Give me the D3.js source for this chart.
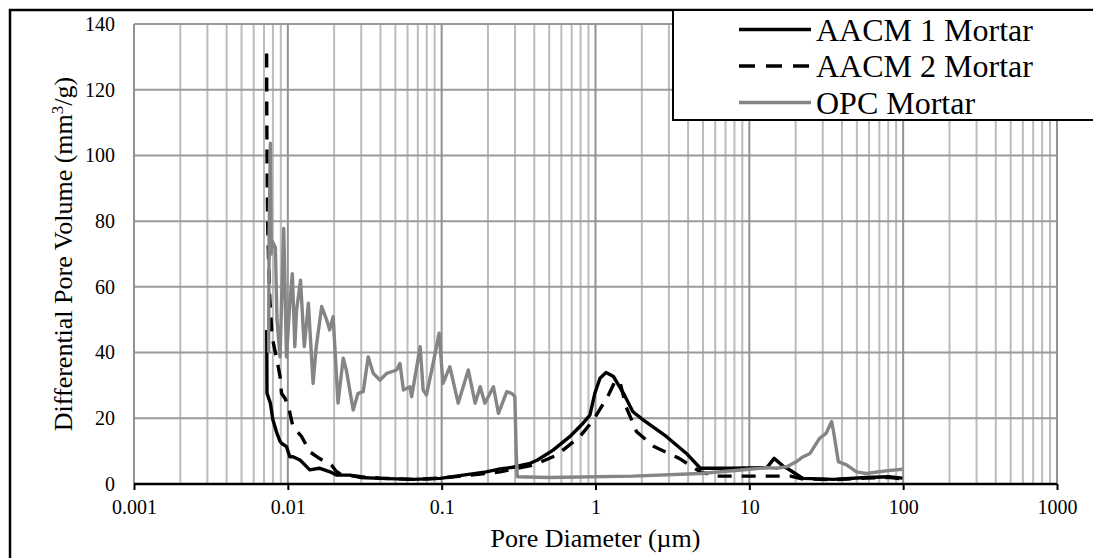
<!DOCTYPE html>
<html>
<head>
<meta charset="utf-8">
<script src="https://d3js.org/d3.v7.min.js"></script>
<style>
    body { margin: 0; background: #fff; }
    text { font-family: "Liberation Serif", "Times New Roman", serif; }
</style>
</head>
<body>
<script>
// Pore size distribution, three mortars, log x axis

// AACM 1 mortar (solid black)
var aacm1Diam = [0.00729, 0.00732, 0.0077, 0.0080, 0.0085, 0.0089, 0.0091,
    0.0098, 0.0103, 0.0108, 0.012, 0.0139, 0.016, 0.0188, 0.0208, 0.0253,
    0.0295, 0.0397, 0.065, 0.098, 0.138, 0.195, 0.24, 0.29, 0.376, 0.42,
    0.53, 0.68, 0.83, 0.92, 0.99, 1.07, 1.17, 1.31, 1.52, 1.75, 2.04, 2.9,
    3.9, 4.8, 7.8, 13.0, 14.5, 16.7, 17.6, 21.4, 22.4, 35.3, 57.5, 80.6, 99];
var aacm1Vol = [46.9, 27.6, 24.6, 19.5, 15.4, 13.0, 12.4,
    11.4, 8.3, 8.3, 7.3, 4.3, 4.8, 3.7, 2.7, 2.7,
    2.0, 1.7, 1.4, 1.7, 2.7, 3.7, 4.6, 5.1, 6.3, 7.3,
    10.3, 14.4, 18.5, 21.0, 27.6, 32.2, 33.9, 32.7, 27.6, 22.0, 19.5, 14.4,
    9.3, 4.8, 4.8, 5.0, 7.8, 5.3, 4.8, 2.2, 1.7, 1.4, 2.0, 2.2, 1.8];

// AACM 2 mortar (dashed black)
var aacm2Diam = [0.00728, 0.0073, 0.00735, 0.0074, 0.0075, 0.0076, 0.0079,
    0.0085, 0.0089, 0.0091, 0.0096, 0.0101, 0.0108, 0.0123, 0.0139, 0.016,
    0.0192, 0.0205, 0.022, 0.03, 0.04, 0.065, 0.1, 0.14, 0.24, 0.397, 0.56,
    0.79, 0.97, 1.2, 1.35, 1.45, 1.58, 1.85, 2.4, 3.5, 4.8, 6.1, 18.5, 22,
    35, 57, 80, 99];
var aacm2Vol = [131, 110, 90, 78, 68, 58, 44.8,
    37.7, 32.7, 27.6, 26.0, 23.5, 17.4, 14.4, 9.8, 7.8,
    5.8, 4.0, 3.0, 2.2, 1.8, 1.4, 1.8, 2.5, 3.7, 5.8, 8.8,
    14.4, 19.5, 26.6, 31.6, 30.6, 23.5, 15.9, 11.4, 7.8, 3.7, 2.4, 2.4, 1.6,
    1.3, 1.8, 2.0, 1.6];

// OPC mortar (grey)
var opcDiam = [0.0075, 0.00755, 0.0077, 0.0078, 0.0079, 0.0083, 0.0085,
    0.0089, 0.0094, 0.0098, 0.0103, 0.0107, 0.0111, 0.0114, 0.0121, 0.0126,
    0.0128, 0.0136, 0.0146, 0.0153, 0.0166, 0.0179, 0.0187, 0.0197, 0.0212,
    0.0229, 0.024, 0.0266, 0.0286, 0.0309, 0.0333, 0.0359, 0.0397, 0.044,
    0.0509, 0.0536, 0.0564, 0.0622, 0.0638, 0.0725, 0.0758, 0.0797, 0.088,
    0.0963, 0.102, 0.113, 0.128, 0.149, 0.165, 0.178, 0.191, 0.217, 0.234,
    0.265, 0.285, 0.299, 0.305, 0.31, 0.5, 1.75, 4.8, 10, 13, 15, 17.6, 20.2,
    22.4, 24.8, 28.6, 31.5, 34.3, 35.3, 37.9, 42.8, 49.8, 57.5, 77, 99];
var opcVol = [40, 73, 103.7, 70, 74, 72, 50,
    38.7, 77.8, 38.7, 55, 64, 41.8, 53, 62, 46.9,
    41.8, 55, 30.6, 41.8, 54, 49.9, 46.9, 50.9, 24.6,
    38.3, 34.7, 22.5, 27.6, 28.1, 38.7, 33.7, 31.6, 33.7,
    34.7, 36.7, 28.6, 29.6, 26.6, 41.8, 28.6, 27.1, 36.7,
    45.9, 30.6, 35.7, 24.6, 34.7, 24.6, 29.6, 24.6, 29.6, 21.5,
    28.1, 27.6, 26.6, 10, 2.2, 2.0, 2.4, 3.2, 4.5, 5.0, 4.8, 5.3, 6.8,
    8.3, 9.3, 13.9, 15.4, 19, 15.9, 6.8, 5.8, 3.7, 3.2, 4.0, 4.5];

var seriesNames = ["AACM 1 Mortar", "AACM 2 Mortar", "OPC Mortar"];
var xTickValues = [0.001, 0.01, 0.1, 1, 10, 100, 1000];
var xTickLabels = ["0.001", "0.01", "0.1", "1", "10", "100", "1000"];
var yTickValues = [0, 20, 40, 60, 80, 100, 120, 140];

// margins around the plot area
var margin = {top: 24, right: 36, bottom: 74, left: 134},
    width = 1093 - margin.left - margin.right,
    height = 558 - margin.top - margin.bottom;

var root = d3.select("body").append("svg")
    .attr("width", 1093)
    .attr("height", 558);

// chart frame, cut off at the right and bottom like the original
root.append("rect")
    .attr("x", 10).attr("y", 10)
    .attr("width", 1200).attr("height", 700)
    .attr("fill", "#fff")
    .attr("stroke", "#000")
    .attr("stroke-width", 2.5);

var svg = root.append("g")
    .attr("transform", "translate(" + margin.left + "," + margin.top + ")");

var xScale = d3.scaleLog().domain([0.001, 1000]).range([0, width]);
var yScale = d3.scaleLinear().domain([0, 140]).range([height, 0]);

// minor vertical gridlines (2..9 of each decade)
var allX = xScale.ticks();
svg.selectAll("line.minor")
    .data(allX.filter(function(d) { return xTickValues.indexOf(d) < 0; }))
    .enter().append("line")
    .attr("class", "minor")
    .attr("x1", function(d) { return xScale(d); })
    .attr("x2", function(d) { return xScale(d); })
    .attr("y1", 0).attr("y2", height)
    .attr("stroke", "#bcbcbc")
    .attr("stroke-width", 2);

// horizontal gridlines
svg.selectAll("line.hgrid")
    .data(yTickValues.slice(1))
    .enter().append("line")
    .attr("class", "hgrid")
    .attr("x1", 0).attr("x2", width)
    .attr("y1", function(d) { return yScale(d); })
    .attr("y2", function(d) { return yScale(d); })
    .attr("stroke", "#9a9a9a")
    .attr("stroke-width", 2);

// major vertical gridlines
svg.selectAll("line.major")
    .data(xTickValues)
    .enter().append("line")
    .attr("class", "major")
    .attr("x1", function(d) { return xScale(d); })
    .attr("x2", function(d) { return xScale(d); })
    .attr("y1", 0).attr("y2", height)
    .attr("stroke", "#929292")
    .attr("stroke-width", 2);

// x axis
var xAxis = d3.axisBottom(xScale)
    .tickValues(xTickValues)
    .tickSize(6)
    .tickPadding(10)
    .tickFormat(function(d, i) { return xTickLabels[i]; });

var gx = svg.append("g")
    .attr("class", "x axis")
    .attr("transform", "translate(0," + height + ")")
    .call(xAxis);
gx.select(".domain").attr("stroke", "#000").attr("stroke-width", 2.5)
    .attr("d", "M0,0H" + width);
gx.selectAll(".tick line").attr("stroke", "#000").attr("stroke-width", 2);
gx.selectAll("text")
    .attr("font-size", "20px")
    .attr("font-family", "Liberation Serif")
    .attr("fill", "#000");

// y axis, labels only
var yAxis = d3.axisLeft(yScale)
    .tickValues(yTickValues)
    .tickSize(0)
    .tickPadding(19);
var gy = svg.append("g")
    .attr("class", "y axis")
    .call(yAxis);
gy.select(".domain").remove();
gy.selectAll("text")
    .attr("font-size", "20px")
    .attr("font-family", "Liberation Serif")
    .attr("fill", "#000");

// series lines
var series = [
    {name: seriesNames[0], x: aacm1Diam, y: aacm1Vol, color: "#000", dash: null},
    {name: seriesNames[1], x: aacm2Diam, y: aacm2Vol, color: "#000", dash: "14,10"},
    {name: seriesNames[2], x: opcDiam, y: opcVol, color: "#858585", dash: null}
];

var line = d3.line()
    .x(function(d) { return xScale(d[0]); })
    .y(function(d) { return yScale(d[1]); });

series.forEach(function(s) {
    var pts = s.x.map(function(d, i) { return [d, s.y[i]]; });
    svg.append("path")
        .datum(pts)
        .attr("fill", "none")
        .attr("stroke", s.color)
        .attr("stroke-width", 3.4)
        .attr("stroke-linejoin", "round")
        .attr("stroke-dasharray", s.dash)
        .attr("d", line);
});

// axis titles
svg.append("text")
    .attr("x", width / 2)
    .attr("y", 547 - margin.top)
    .attr("text-anchor", "middle")
    .attr("font-size", "26px")
    .text("Pore Diameter (\u00b5m)");

var yTitle = root.append("text")
    .attr("transform", "translate(72," + (margin.top + height / 2) + ") rotate(-90)")
    .attr("text-anchor", "middle")
    .attr("font-size", "26px");
yTitle.append("tspan").text("Differential Pore Volume (mm");
yTitle.append("tspan").attr("font-size", "17px").attr("dy", "-9").text("3");
yTitle.append("tspan").attr("dy", "9").text("/g)");

// legend box
var legend = root.append("g");
legend.append("rect")
    .attr("x", 673).attr("y", 10)
    .attr("width", 500).attr("height", 110)
    .attr("fill", "#fff")
    .attr("stroke", "#000")
    .attr("stroke-width", 2);

var legendRows = legend.selectAll("g.row")
    .data(series)
    .enter().append("g")
    .attr("class", "row")
    .attr("transform", function(d, i) {
        return "translate(0," + (29.5 + i * 36.5) + ")";
    });
legendRows.append("line")
    .attr("x1", 739).attr("x2", 811)
    .attr("y1", 0).attr("y2", 0)
    .attr("stroke", function(d) { return d.color; })
    .attr("stroke-width", 3.5)
    .attr("stroke-dasharray", function(d) { return d.dash ? "16,11" : null; });
legendRows.append("text")
    .attr("x", 816)
    .attr("y", 11)
    .attr("font-size", "32px")
    .text(function(d) { return d.name; });
</script>
</body>
</html>
